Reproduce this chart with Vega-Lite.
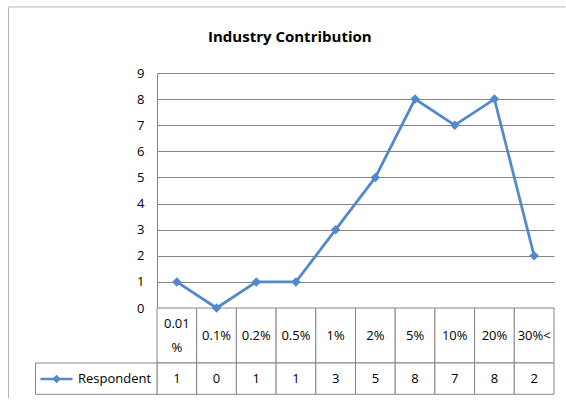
{
  "$schema": "https://vega.github.io/schema/vega-lite/v6.json",
  "width": 397,
  "height": 235,
  "padding": {"left": 8, "top": 6, "right": 0, "bottom": 0},
  "background": "white",
  "title": {"text": "Industry Contribution", "font": "Open Sans", "fontSize": 15, "fontWeight": "bold", "color": "#000000", "anchor": "middle", "frame": "bounds", "offset": -39, "dx": 3},
  "datasets": {
    "contrib": [
      {"contribution": "0.01%", "header": "0.01\n%", "respondents": 1},
      {"contribution": "0.1%", "header": "0.1%", "respondents": 0},
      {"contribution": "0.2%", "header": "0.2%", "respondents": 1},
      {"contribution": "0.5%", "header": "0.5%", "respondents": 1},
      {"contribution": "1%", "header": "1%", "respondents": 3},
      {"contribution": "2%", "header": "2%", "respondents": 5},
      {"contribution": "5%", "header": "5%", "respondents": 8},
      {"contribution": "10%", "header": "10%", "respondents": 7},
      {"contribution": "20%", "header": "20%", "respondents": 8},
      {"contribution": "30%<", "header": "30%<", "respondents": 2}
    ]
  },
  "layer": [
    {
      "data": {"name": "contrib"},
      "encoding": {
        "x": {"field": "contribution", "type": "nominal", "sort": null, "scale": {"type": "band", "paddingInner": 0, "paddingOuter": 0}, "axis": null}
      },
      "layer": [
        {
          "mark": {"type": "rect", "fill": "white", "stroke": "#868686", "strokeWidth": 1},
          "encoding": {"y": {"datum": 0, "type": "quantitative", "scale": {"domain": [0, 9], "nice": false, "zero": false}, "axis": null}, "y2": {"datum": -2.106}}
        },
        {
          "mark": {"type": "rect", "fill": "white", "stroke": "#868686", "strokeWidth": 1},
          "encoding": {"y": {"datum": -2.106, "type": "quantitative", "axis": null}, "y2": {"datum": -3.305}}
        },
        {
          "transform": [{"filter": "indexof(datum.header, '\\n') < 0"}],
          "mark": {"type": "text", "baseline": "middle", "align": "center"},
          "encoding": {"y": {"datum": -1.07, "type": "quantitative", "axis": null}, "text": {"field": "header"}}
        },
        {
          "transform": [{"filter": "indexof(datum.header, '\\n') >= 0"}],
          "mark": {"type": "text", "lineBreak": "\n", "lineHeight": 24, "baseline": "middle", "align": "center"},
          "encoding": {"y": {"datum": -0.61, "type": "quantitative", "axis": null}, "text": {"field": "header"}}
        },
        {
          "mark": {"type": "text", "baseline": "middle", "align": "center"},
          "encoding": {"y": {"datum": -2.72, "type": "quantitative", "axis": null}, "text": {"field": "respondents", "type": "quantitative"}}
        }
      ]
    },
    {
      "data": {"values": [{"series": "Respondent"}]},
      "layer": [
        {
          "mark": {"type": "rect", "fill": "white", "stroke": "#868686", "strokeWidth": 1},
          "encoding": {
            "x": {"datum": -3.06, "type": "quantitative", "scale": {"domain": [0, 10], "nice": false, "zero": false}, "axis": null},
            "x2": {"datum": 0},
            "y": {"datum": -2.106, "type": "quantitative", "scale": {"domain": [0, 9], "nice": false, "zero": false}, "axis": null},
            "y2": {"datum": -3.305}
          }
        },
        {
          "mark": {"type": "rule", "color": "#5289CA", "strokeWidth": 2.5},
          "encoding": {"x": {"datum": -2.935, "type": "quantitative", "axis": null}, "x2": {"datum": -2.128}, "y": {"datum": -2.72, "type": "quantitative", "axis": null}}
        },
        {
          "mark": {"type": "point", "shape": "diamond", "filled": true, "size": 70, "color": "#5289CA", "opacity": 1},
          "encoding": {"x": {"datum": -2.53, "type": "quantitative", "axis": null}, "y": {"datum": -2.72, "type": "quantitative", "axis": null}}
        },
        {
          "mark": {"type": "text", "align": "left", "baseline": "middle"},
          "encoding": {"x": {"datum": -1.99, "type": "quantitative", "axis": null}, "y": {"datum": -2.72, "type": "quantitative", "axis": null}, "text": {"field": "series"}}
        },
        {
          "mark": {"type": "rule", "color": "#b4b4b4", "strokeWidth": 1},
          "encoding": {"x": {"datum": -3.74, "type": "quantitative", "axis": null}, "y": {"datum": 11.53, "type": "quantitative", "axis": null}, "y2": {"datum": -3.45}}
        },
        {
          "mark": {"type": "rule", "color": "#b4b4b4", "strokeWidth": 1},
          "encoding": {"x": {"datum": -3.74, "type": "quantitative", "axis": null}, "x2": {"datum": 10.28}, "y": {"datum": 11.53, "type": "quantitative", "axis": null}}
        }
      ]
    },
    {
      "data": {"name": "contrib"},
      "mark": {"type": "line", "color": "#5289CA", "strokeWidth": 2.75, "point": {"shape": "diamond", "size": 90, "filled": true, "color": "#5289CA", "opacity": 1}},
      "encoding": {
        "x": {"field": "contribution", "type": "nominal", "sort": null, "scale": {"type": "band", "paddingInner": 0, "paddingOuter": 0}, "axis": null},
        "y": {"field": "respondents", "type": "quantitative", "title": null, "scale": {"domain": [0, 9], "nice": false, "zero": false}, "axis": {"values": [0, 1, 2, 3, 4, 5, 6, 7, 8, 9], "grid": true, "orient": "left", "zindex": 0}}
      }
    }
  ],
  "resolve": {"scale": {"x": "independent", "y": "independent"}},
  "config": {
    "view": {"stroke": null},
    "axisY": {"gridColor": "#868686", "gridOpacity": 1, "domainColor": "#868686", "ticks": false, "labelPadding": 13, "labelFont": "Open Sans", "labelFontSize": 13, "labelColor": "#000000"},
    "text": {"font": "Open Sans", "fontSize": 13, "color": "#000000"}
  }
}
